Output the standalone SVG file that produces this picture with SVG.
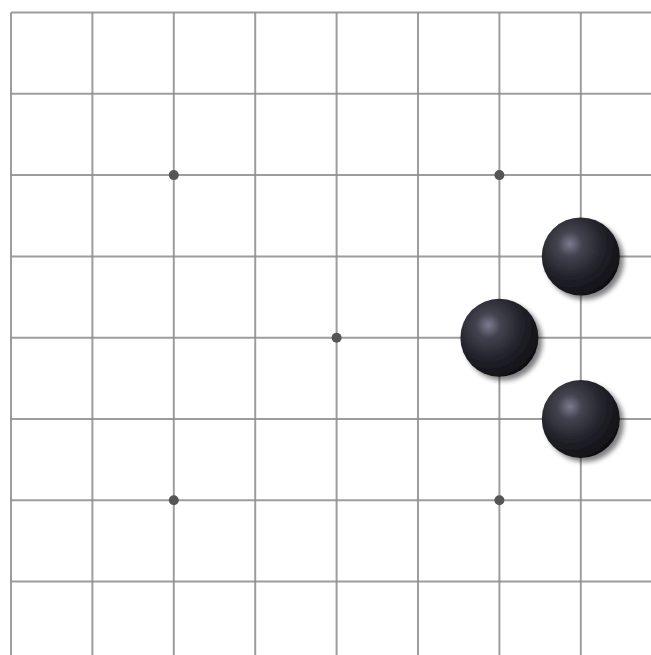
<svg xmlns="http://www.w3.org/2000/svg" width="651" height="655" viewBox="0 0 651 655">
<defs>
<radialGradient id="stoneGrad" cx="0.36" cy="0.34" r="0.72">
<stop offset="0" stop-color="#7c7b90"/>
<stop offset="0.22" stop-color="#44434f"/>
<stop offset="0.6" stop-color="#22222a"/>
<stop offset="1" stop-color="#0e0e12"/>
</radialGradient>
<filter id="shadow" x="-30%" y="-30%" width="170%" height="170%">
<feGaussianBlur in="SourceAlpha" stdDeviation="2.5"/>
<feOffset dx="4" dy="4" result="b"/>
<feComponentTransfer><feFuncA type="linear" slope="0.5"/></feComponentTransfer>
<feMerge><feMergeNode/><feMergeNode in="SourceGraphic"/></feMerge>
</filter>
<g id="stone"><circle r="39" fill="url(#stoneGrad)"/></g>
</defs>
<style>
.grid line{stroke:#8c8c8c;stroke-width:2;stroke-opacity:0.85}
.star{fill:#555555}
</style>
<rect width="651" height="655" fill="#ffffff"/>
<g id="connectors" class="grid">
<line x1="11" y1="12.5" x2="11" y2="655"/>
<line x1="92.4" y1="12.5" x2="92.4" y2="655"/>
<line x1="173.8" y1="12.5" x2="173.8" y2="655"/>
<line x1="255.2" y1="12.5" x2="255.2" y2="655"/>
<line x1="336.6" y1="12.5" x2="336.6" y2="655"/>
<line x1="418" y1="12.5" x2="418" y2="655"/>
<line x1="499.4" y1="12.5" x2="499.4" y2="655"/>
<line x1="580.8" y1="12.5" x2="580.8" y2="655"/>
<line x1="11" y1="12.5" x2="651" y2="12.5"/>
<line x1="11" y1="93.8" x2="651" y2="93.8"/>
<line x1="11" y1="175.1" x2="651" y2="175.1"/>
<line x1="11" y1="256.4" x2="651" y2="256.4"/>
<line x1="11" y1="337.7" x2="651" y2="337.7"/>
<line x1="11" y1="419" x2="651" y2="419"/>
<line x1="11" y1="500.3" x2="651" y2="500.3"/>
<line x1="11" y1="581.6" x2="651" y2="581.6"/>
</g>
<g id="stars">
<circle class="star" cx="173.8" cy="175.1" r="5"/>
<circle class="star" cx="499.4" cy="175.1" r="5"/>
<circle class="star" cx="336.6" cy="337.7" r="5"/>
<circle class="star" cx="173.8" cy="500.3" r="5"/>
<circle class="star" cx="499.4" cy="500.3" r="5"/>
</g>
<g id="stone1" filter="url(#shadow)"><use href="#stone" x="580.8" y="256.4"/></g>
<g id="stone2" filter="url(#shadow)"><use href="#stone" x="499.4" y="337.7"/></g>
<g id="stone3" filter="url(#shadow)"><use href="#stone" x="580.8" y="419"/></g>
</svg>
